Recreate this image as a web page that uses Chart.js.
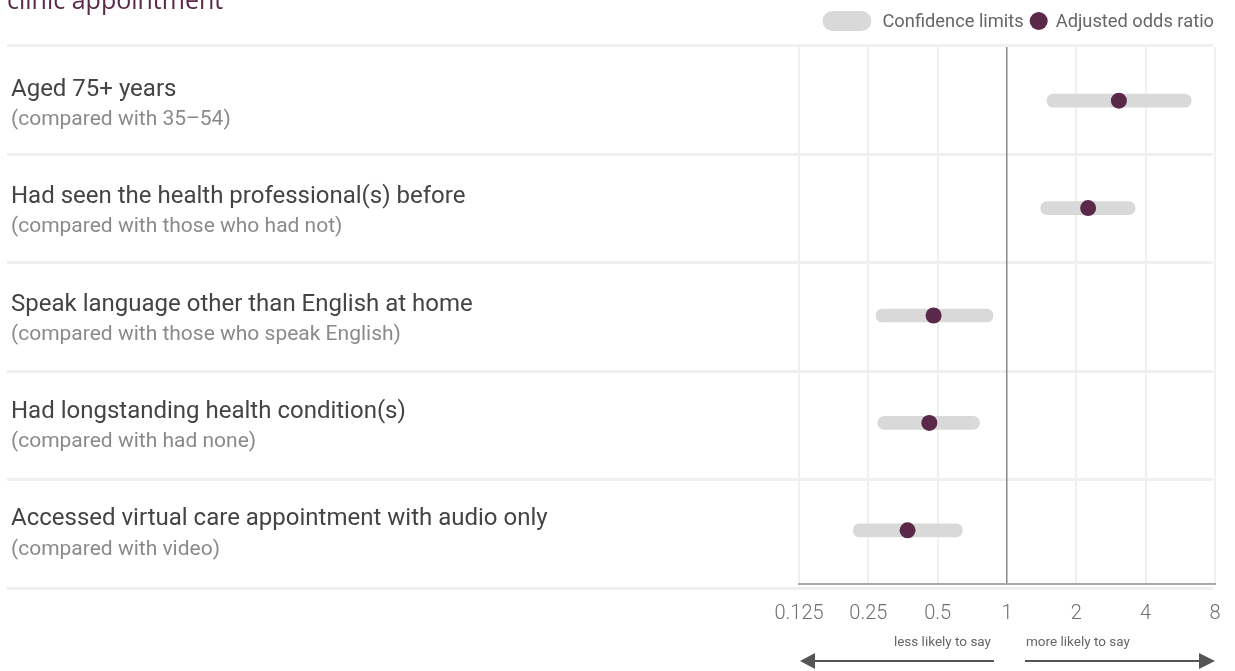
<!DOCTYPE html>
<html>
<head>
<meta charset="utf-8">
<script src="https://cdn.jsdelivr.net/npm/chart.js@4/dist/chart.umd.min.js"></script>
<style>
  html, body { margin: 0; padding: 0; background: #ffffff; overflow: hidden; }
  #wrap { position: relative; width: 1235px; height: 671px; }
  canvas { display: block; }
</style>
</head>
<body>
<div id="wrap"><canvas id="c" width="1235" height="671"></canvas></div>
<script>
// ---- Data ----
const categories = [
  'Aged 75+ years',
  'Had seen the health professional(s) before',
  'Speak language other than English at home',
  'Had longstanding health condition(s)',
  'Accessed virtual care appointment with audio only'
];
const comparisons = [
  '(compared with 35\u201354)',
  '(compared with those who had not)',
  '(compared with those who speak English)',
  '(compared with had none)',
  '(compared with video)'
];
const oddsRatio = [3.06, 2.25, 0.48, 0.46, 0.37];
const ciLower   = [1.49, 1.40, 0.27, 0.275, 0.215];
const ciUpper   = [6.30, 3.60, 0.87, 0.76, 0.64];
const xTickValues = [0.125, 0.25, 0.5, 1, 2, 4, 8];
const xTickLabels = ['0.125', '0.25', '0.5', '1', '2', '4', '8'];
const titleTail = 'clinic appointment';
const legendLabels = ['Confidence limits', 'Adjusted odds ratio'];
const directionLabels = ['less likely to say', 'more likely to say'];

const PURPLE = '#5a2848';
const CI_GREY = '#d9d9d9';
const SEP = '#f0f0f0';

const decorPlugin = {
  id: 'decor',
  beforeDraw(chart) {
    const ctx = chart.ctx;
    const ca = chart.chartArea;
    const top = ca.top - 2, bottom = ca.bottom + 4;
    const step = (bottom - top) / categories.length;
    ctx.save();
    ctx.strokeStyle = SEP;
    ctx.lineWidth = 3;
    for (let i = 0; i <= categories.length; i++) {
      const y = Math.round(top + i * step) + 0.5;
      ctx.beginPath();
      ctx.moveTo(7, y);
      ctx.lineTo(ca.right - 2, y);
      ctx.stroke();
    }
    ctx.restore();
  },
  afterDraw(chart) {
    const ctx = chart.ctx;
    const ca = chart.chartArea;
    const ys = chart.scales.y;
    const xs = chart.scales.x;
    ctx.save();
    // Title tail
    ctx.fillStyle = PURPLE;
    ctx.font = '25px "Open Sans", sans-serif';
    ctx.textBaseline = 'alphabetic';
    ctx.textAlign = 'left';
    ctx.fillText(titleTail, 7, 9);

    // Row labels
    ctx.textBaseline = 'middle';
    categories.forEach((c, i) => {
      const y = ys.getPixelForValue(i);
      ctx.fillStyle = '#444444';
      ctx.font = '24px Roboto, "Liberation Sans", sans-serif';
      ctx.fillText(c, 11, y - 11);
      ctx.fillStyle = '#8a8a8a';
      ctx.font = '21px Roboto, "Liberation Sans", sans-serif';
      ctx.fillText(comparisons[i], 11, y + 19);
    });

    // Legend
    const ly = 21;
    ctx.font = '18.3px Roboto, "Liberation Sans", sans-serif';
    ctx.fillStyle = '#666666';
    let x = 1214;
    const w2 = ctx.measureText(legendLabels[1]).width;
    ctx.textAlign = 'left';
    ctx.fillText(legendLabels[1], x - w2, ly + 1.5);
    x = x - w2 - 8 - 9;
    ctx.fillStyle = PURPLE;
    ctx.beginPath(); ctx.arc(x, ly, 9, 0, Math.PI * 2); ctx.fill();
    x = x - 9 - 6;
    const w1 = ctx.measureText(legendLabels[0]).width;
    ctx.fillStyle = '#666666';
    ctx.fillText(legendLabels[0], x - w1, ly + 1.5);
    x = x - w1 - 11;
    ctx.fillStyle = CI_GREY;
    ctx.beginPath();
    if (ctx.roundRect) ctx.roundRect(x - 49, ly - 10, 49, 20, 10); else ctx.rect(x - 49, ly - 10, 49, 20);
    ctx.fill();

    // Direction labels and arrows
    const x1 = xs.getPixelForValue(1);
    const ty = ca.bottom + 59;
    ctx.font = '13.5px Roboto, "Liberation Sans", sans-serif';
    ctx.fillStyle = '#666666';
    ctx.textAlign = 'right';
    ctx.fillText(directionLabels[0], x1 - 16, ty);
    ctx.textAlign = 'left';
    ctx.fillText(directionLabels[1], x1 + 19, ty);

    const ay = ca.bottom + 77;
    ctx.strokeStyle = '#555555';
    ctx.fillStyle = '#555555';
    ctx.lineWidth = 2;
    ctx.beginPath(); ctx.moveTo(x1 - 13, ay); ctx.lineTo(xs.left + 12, ay); ctx.stroke();
    ctx.beginPath(); ctx.moveTo(xs.left + 1, ay); ctx.lineTo(xs.left + 16, ay - 8); ctx.lineTo(xs.left + 16, ay + 8); ctx.closePath(); ctx.fill();
    ctx.beginPath(); ctx.moveTo(x1 + 18, ay); ctx.lineTo(xs.right - 12, ay); ctx.stroke();
    ctx.beginPath(); ctx.moveTo(xs.right, ay); ctx.lineTo(xs.right - 16, ay - 8); ctx.lineTo(xs.right - 16, ay + 8); ctx.closePath(); ctx.fill();
    ctx.restore();
  }
};

new Chart(document.getElementById('c'), {
  type: 'bar',
  data: {
    labels: categories,
    datasets: [
      {
        type: 'line',
        label: legendLabels[1],
        indexAxis: 'y',
        data: oddsRatio,
        showLine: false,
        pointRadius: 8,
        pointHoverRadius: 8,
        pointBackgroundColor: PURPLE,
        pointBorderWidth: 0,
        borderColor: PURPLE,
        order: 0
      },
      {
        label: legendLabels[0],
        data: ciLower.map((lo, i) => [lo, ciUpper[i]]),
        backgroundColor: CI_GREY,
        borderWidth: 0,
        borderSkipped: false,
        borderRadius: 7,
        barThickness: 13,
        order: 1
      }
    ]
  },
  options: {
    indexAxis: 'y',
    responsive: false,
    animation: false,
    events: [],
    layout: { padding: { left: 799, right: 20, top: 47, bottom: 0 } },
    plugins: { legend: { display: false }, tooltip: { enabled: false }, title: { display: false } },
    scales: {
      x: {
        type: 'logarithmic',
        position: 'bottom',
        min: 0.125,
        max: 8,
        afterBuildTicks(scale) { scale.ticks = xTickValues.map(v => ({ value: v })); },
        afterFit(scale) { scale.height = 87; scale.paddingLeft = 0; scale.paddingRight = 0; },
        ticks: {
          autoSkip: false,
          maxRotation: 0,
          padding: 18,
          color: '#707070',
          font: { family: 'Roboto', weight: '300', size: 20 },
          callback(value) {
            const i = xTickValues.indexOf(value);
            return i >= 0 ? xTickLabels[i] : '';
          }
        },
        grid: {
          drawTicks: false,
          color: (c) => (c.tick && c.tick.value === 1) ? '#888888' : '#f0f0f0',
          lineWidth: (c) => (c.tick && c.tick.value === 1) ? 1.5 : 2
        },
        border: { display: true, color: '#aaaaaa', width: 2 }
      },
      y: {
        type: 'category',
        display: false,
        offset: true,
        grid: { display: false }
      }
    }
  },
  plugins: [decorPlugin]
});
</script>
</body>
</html>
